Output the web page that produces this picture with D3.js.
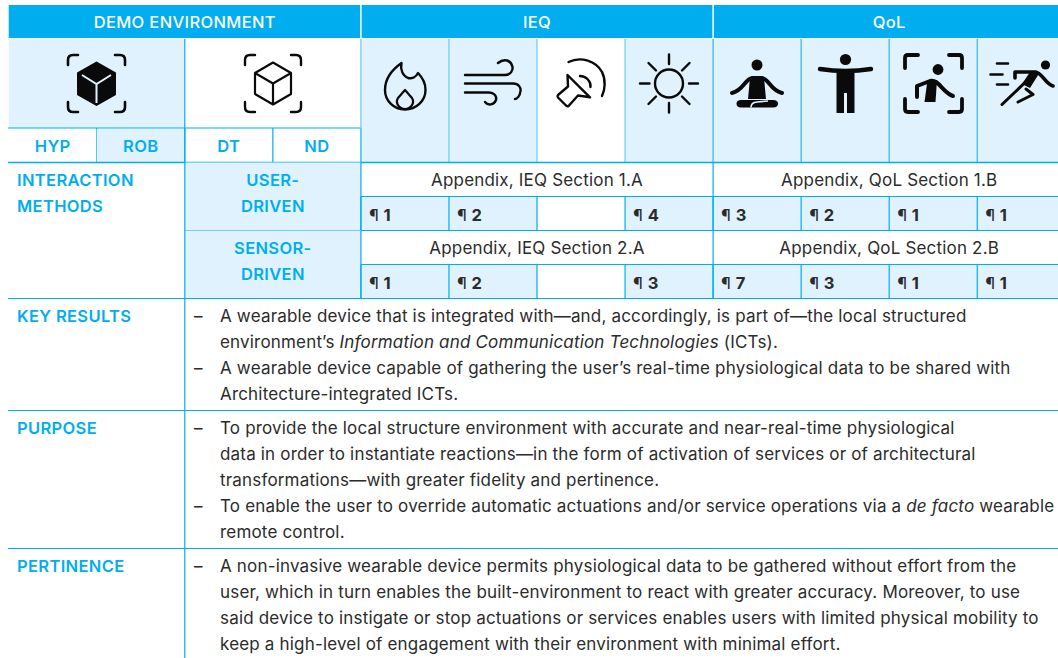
<!DOCTYPE html>
<meta charset="utf-8">
<script src="https://d3js.org/d3.v7.min.js"></script>
<style>
  html, body { margin: 0; background: #fff; overflow: hidden; }
  text { font-family: "Inter", sans-serif; }
</style>
<div id="chart"></div>
<script>
const blue = "#00aeef", pale = "#dff2fd", ink = "#2b2b2b";

// table contents
const groups = [
  { name: "DEMO ENVIRONMENT", from: 0, to: 3 },
  { name: "IEQ", from: 4, to: 7 },
  { name: "QoL", from: 8, to: 11 }
];
const columns = d3.range(12);
const demoLabels = ["HYP", "ROB", "DT", "ND"];
const demoShaded = [false, true, false, false];
const iconShaded = [true, true, false, true, true, true, true, true];
const methodNames = [["USER-", "DRIVEN"], ["SENSOR-", "DRIVEN"]];
const appendixIEQ = ["Appendix, IEQ Section 1.A", "Appendix, IEQ Section 2.A"];
const appendixQoL = ["Appendix, QoL Section 1.B", "Appendix, QoL Section 2.B"];
const userParagraphs = [1, 2, null, 4, 3, 2, 1, 1];
const sensorParagraphs = [1, 2, null, 3, 7, 3, 1, 1];
const sectionNames = ["KEY RESULTS", "PURPOSE", "PERTINENCE"];
// each line: starts a new dash item, then text pieces (odd pieces are italic)
const keyResults = [
  [true, "A wearable device that is integrated with—and, accordingly, is part of—the local structured"],
  [false, "environment’s ", "Information and Communication Technologies", " (ICTs)."],
  [true, "A wearable device capable of gathering the user’s real-time physiological data to be shared with"],
  [false, "Architecture-integrated ICTs."]
];
const purpose = [
  [true, "To provide the local structure environment with accurate and near-real-time physiological"],
  [false, "data in order to instantiate reactions—in the form of activation of services or of architectural"],
  [false, "transformations—with greater fidelity and pertinence."],
  [true, "To enable the user to override automatic actuations and/or service operations via a ", "de facto", " wearable"],
  [false, "remote control."]
];
const pertinence = [
  [true, "A non-invasive wearable device permits physiological data to be gathered without effort from the"],
  [false, "user, which in turn enables the built-environment to react with greater accuracy. Moreover, to use"],
  [false, "said device to instigate or stop actuations or services enables users with limited physical mobility to"],
  [false, "keep a high-level of engagement with their environment with minimal effort."]
];

const width = 1058, height = 658;
const bodySize = 17, bodySpacing = 0.18, capsSize = 16.5, capsSpacing = 0.35;
const x = d3.scaleBand().domain(columns).range([8.7, 8.7 + 88.05 * 12]);
const w = x.bandwidth();

const svg = d3.select("#chart").append("svg").attr("width", width).attr("height", height).style("display", "block");

function cell(c0, c1, y0, y1, fill) {
  svg.append("rect").attr("x", x(c0)).attr("y", y0).attr("width", x(c1) + w - x(c0)).attr("height", y1 - y0).attr("fill", fill);
}
function hline(x0, x1, y, color, sw) {
  svg.append("line").attr("x1", x0).attr("x2", x1).attr("y1", y).attr("y2", y).attr("stroke", color || blue).attr("stroke-width", sw || 1.2);
}
function vline(xp, y0, y1, color, sw) {
  svg.append("line").attr("x1", xp).attr("x2", xp).attr("y1", y0).attr("y2", y1).attr("stroke", color || blue).attr("stroke-width", sw || 1.2);
}
function label(str, xp, y, opts) {
  opts = opts || {};
  return svg.append("text").attr("x", xp).attr("y", y)
    .attr("text-anchor", opts.anchor || "start")
    .attr("font-size", opts.size || bodySize)
    .attr("letter-spacing", opts.spacing === undefined ? bodySpacing : opts.spacing)
    .attr("font-weight", opts.weight || 400)
    .attr("fill", opts.fill || ink)
    .text(str);
}
const caps = (str, xp, y, anchor) => label(str, xp, y, { anchor: anchor, fill: blue, weight: 600, size: capsSize, spacing: capsSpacing });

// header band
cell(0, 11, 5, 38, blue);
groups.forEach(g => {
  label(g.name, (x(g.from) + x(g.to) + w) / 2, 27.5, { anchor: "middle", fill: "#fff", weight: 500, size: capsSize, spacing: capsSpacing });
});
vline(x(4), 5, 38, "#fff", 1.5);
vline(x(8), 5, 38, "#fff", 1.5);

// icon row
cell(0, 1, 39, 128, pale);
iconShaded.forEach((s, i) => { if (s) cell(i + 4, i + 4, 39, 162, pale); });
demoShaded.forEach((s, i) => {
  if (s) cell(i, i, 129, 162, pale);
  caps(demoLabels[i], x(i) + w / 2, 151.5, "middle");
  vline(x(i) + w, 128, 162);
});
hline(8, x(4), 128);
vline(x(2), 39, 162);
columns.slice(4).forEach(c => vline(x(c), 39, 162, c >= 8 ? "#2fb6ea" : "#66cdf5"));
hline(8, width, 162.5, blue, 1.4);

// interaction rows
const methodY = [162.5, 230.5, 298.5];
const paraRows = [userParagraphs, sensorParagraphs];
methodNames.forEach((m, r) => {
  const y0 = methodY[r], mid = y0 + 34, y1 = methodY[r + 1];
  cell(2, 3, y0, y1, pale);
  paraRows[r].forEach((p, i) => {
    if (p !== null) {
      cell(i + 4, i + 4, mid, y1, pale);
      svg.append("text").attr("x", x(i + 4) + 8).attr("y", mid + 24).attr("font-size", bodySize - 0.5).attr("fill", ink)
        .html(`¶ <tspan font-weight="700">${p}</tspan>`);
    }
    vline(x(i + 4), mid, y1);
  });
  caps(m[0], x(3), y0 + 23.5, "middle");
  caps(m[1], x(3), y0 + 49.5, "middle");
  label(appendixIEQ[r], (x(4) + x(7) + w) / 2, y0 + 23.5, { anchor: "middle" });
  label(appendixQoL[r], (x(8) + x(11) + w) / 2, y0 + 23.5, { anchor: "middle" });
  hline(x(4), width, mid);
  hline(x(2), width, y1);
  vline(x(4), y0, y1);
  vline(x(8), y0, y1);
});
caps("INTERACTION", 17, 186);
caps("METHODS", 17, 212);

// text rows
const textRows = [keyResults, purpose, pertinence];
const rowTop = [298.5, 410.5, 548.5, 658];
vline(x(2), 162, 658);
textRows.forEach((lines, r) => {
  const y0 = rowTop[r];
  hline(8, width, y0, blue, 1.2);
  caps(sectionNames[r], 17, y0 + 23.5);
  lines.forEach((l, i) => {
    const yy = y0 + 23 + i * 26;
    if (l[0]) label("–", 194, yy);
    const t = svg.append("text").attr("x", 220).attr("y", yy).attr("font-size", bodySize)
      .attr("letter-spacing", bodySpacing).attr("fill", ink);
    l.slice(1).forEach((piece, k) => {
      t.append("tspan").attr("font-style", k % 2 ? "italic" : "normal").text(piece);
    });
  });
});

// icons, stroked with round joins unless filled
const black = "#0a0a0a";
function draw(d, sw, fill) {
  return svg.append("path").attr("d", d)
    .attr("fill", fill || "none")
    .attr("stroke", sw ? black : "none")
    .attr("stroke-width", sw || 0)
    .attr("stroke-linecap", "round")
    .attr("stroke-linejoin", "round");
}
function dot(cx, cy, r) { svg.append("circle").attr("cx", cx).attr("cy", cy).attr("r", r).attr("fill", black); }
function corners(x0, x1, y0, y1, a, sw, round) {
  const r = round;
  draw(`M${x0},${y0 + a}V${y0 + r}Q${x0},${y0} ${x0 + r},${y0}H${x0 + a}
        M${x1 - a},${y0}H${x1 - r}Q${x1},${y0} ${x1},${y0 + r}V${y0 + a}
        M${x1},${y1 - a}V${y1 - r}Q${x1},${y1} ${x1 - r},${y1}H${x1 - a}
        M${x0 + a},${y1}H${x0 + r}Q${x0},${y1} ${x0},${y1 - r}V${y1 - a}`, sw);
}

// solid cube
corners(68, 125, 55, 112, 10, 2.6, 5);
draw("M96.5,62.5L115,73V94.5L96.5,105L78,94.5V73Z", 2, black);
svg.append("path").attr("d", "M82,75L96.5,84L111,75M96.5,84V103").attr("fill", "none").attr("stroke", pale).attr("stroke-width", 2);
// outline cube
corners(245, 301, 55, 112, 10, 2.4, 5);
draw("M273,62.5L291,73V94L273,104.5L255,94V73ZM255,73L273,83.5L291,73M273,83.5V104.5", 2.2);

// flame
draw("M401.5,63C393,69 385,77 385,90C385,101 394,109.5 405,109.5C416,109.5 425.5,101 425.5,90C425.5,83 422,77 418,73C416,77 412,79 408,78C403,76 400,70 401.5,63Z", 2.4);
draw("M405,90L398,98C395,103 399,109 405,109C411,109 415,103 412,98Z", 2.2);

// wind
draw("M465,75H505C511,75 513,70 512.5,67C511,60 504,58 498,63", 2.4);
draw("M465,83.5H513C519,83.5 521,88 520.5,91C520,96 517,99 515,99", 2.4);
draw("M465,92.5H489C494,92.5 497,96 496,100C494,105 488,106 485,102", 2.4);

// speaker
draw("M567.5,75L590,97.3L578,95.5L569,105.5Q568,107 566,105.5L558,97.5Q557,96 558,95L568,86.5Z", 2.4);
draw("M568.5,62C581,56 596,61 602,72C606,80 605,90 602,96", 2.4);
draw("M580,76C586,76 591,81 590.5,87", 2.4);

// sun
svg.append("circle").attr("cx", 669).attr("cy", 83.5).attr("r", 14).attr("fill", "none").attr("stroke", black).attr("stroke-width", 2.4);
draw("M669,54.5V64M669,103V112.5M640,83.5H649.5M689,83.5H698M648.5,63L656,70.5M682,96.5L689.5,104M689.5,63L682,70.5M656,96.5L648.5,104", 2.4);

// sitting figure
dot(757, 65, 5.5);
draw("M732,93C743,91 745,79 752,78H762C769,79 771,91 782,93", 4);
draw("M750,78H764L766,99H748Z", 0, black);
draw("M741,100H773Q778,100 778,103.5Q778,107.5 773,107.5H741Q736.5,107.5 736.5,103.5Q736.5,100 741,100Z", 0, black);
svg.append("path").attr("d", "M751,107.5Q751,102.5 757,102L768,101").attr("fill", "none").attr("stroke", pale).attr("stroke-width", 1.6);

// standing figure
dot(845.5, 59.5, 5.6);
draw("M820,69Q845.5,73 871,69", 4.4);
draw("M836.5,71H854.5V113H847V93H844V113H836.5Z", 0, black);

// figure in frame
corners(905, 962, 55, 112, 13, 3.8, 3);
dot(938, 69.5, 5.4);
draw("M917,97V86L930,81C939,79 942,92 953,96", 4);
draw("M927.5,80L937,80L935.5,102H924.5Z", 0, black);

// runner
draw("M997,63.5H1008M990.5,74.5H1002.5M997,84.5H1008", 2.6);
dot(1045.5, 65, 4.6);
draw("M1015,78V72H1035C1042,72 1045,84 1053,86", 3.6);
draw("M1036,72L1002,104.5", 3);
draw("M1026,89L1033,94.5L1018,102", 3);
draw("M1030,72L1040,72L1030,88L1022,84Z", 0, black);
</script>
